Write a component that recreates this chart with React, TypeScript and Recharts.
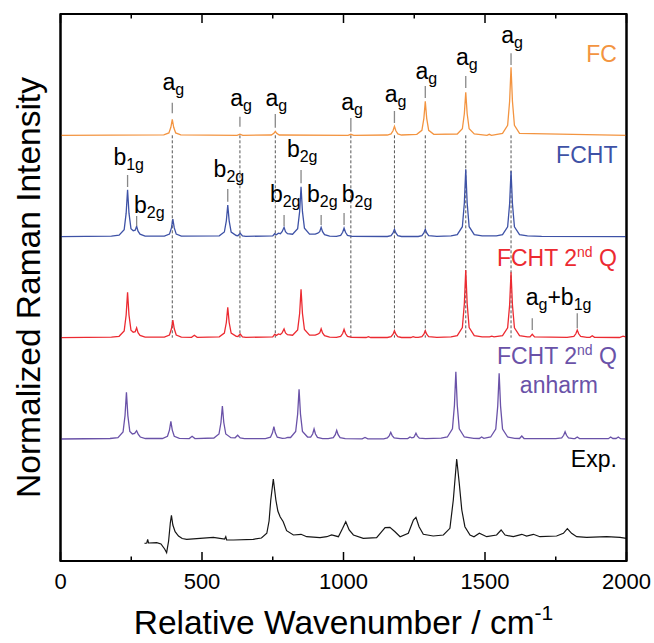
import React from "react";
import { LineChart, Line, XAxis, YAxis, ReferenceLine, ReferenceDot, ReferenceArea } from "recharts";

const FONT = "'Liberation Sans', Arial, Helvetica, sans-serif";

// chart units on y: 0 = bottom of frame, 547 = top of frame
const Y_TOP = 547;
const OFFSET_FC = 425.7;
const OFFSET_FCHT = 324.3;
const OFFSET_2Q = 223.3;
const OFFSET_ANH = 122;

const xTicks = [0, 250, 500, 750, 1000, 1250, 1500, 1750, 2000];

// [wavenumber, intensity above baseline]
const fcPoints: [number, number][] = [
  [0, 0], [365, 0.5], [383, 2.4], [390, 8], [395, 16], [400, 8], [407, 2.4], [425, 0.5],
  [624, 0], [634, 1.2], [644, 0],
  [745, 0.3], [754, 2], [759, 4], [764, 2], [773, 0.3],
  [1016, 0], [1026, 1], [1036, 0],
  [1155, 0.3], [1168, 1.4], [1175, 4.5], [1180, 9], [1185, 4.5], [1192, 1.4], [1205, 0.3],
  [1259, 1], [1277, 5], [1284, 17], [1289, 34], [1294, 17], [1301, 5], [1319, 1],
  [1402, 1.3], [1420, 6.5], [1427, 21.5], [1432, 43], [1437, 21.5], [1444, 6.5], [1462, 1.3],
  [1507, 0], [1515, 1], [1523, 0],
  [1562, 2], [1580, 10], [1587, 34], [1592, 68], [1597, 34], [1604, 10], [1622, 2],
  [2000, 0],
];

const fchtPoints: [number, number][] = [
  [0, 0], [180, 0.5], [207, 1.5], [225, 7], [232, 23.5], [237, 47], [242, 23.5], [249, 8],
  [257, 6], [264, 6.5], [269, 10.5], [274, 5.5], [281, 2.5], [299, 0.6],
  [367, 0.5], [385, 2.6], [392, 8.8], [397, 17.5], [402, 8.8], [409, 2.6], [427, 0.5],
  [561, 0.9], [579, 4.7], [586, 15.9], [591, 31.7], [596, 15.9], [603, 4.7], [621, 1.2],
  [627, 1], [635, 3.4], [643, 0.8], [655, 0.3],
  [750, 0.8], [757, 3], [763, 2], [770, 3.5], [777, 3], [783, 5], [790, 9.4], [795, 5],
  [802, 3], [820, 2.5], [838, 8], [845, 25], [850, 50], [855, 25], [862, 8.5], [880, 2.5],
  [900, 2.5], [909, 3.5], [916, 5], [921, 9.4], [926, 5], [933, 2], [951, 0.5],
  [975, 0.3], [990, 1.3], [997, 4.4], [1002, 8.7], [1007, 4.4], [1014, 1.3], [1030, 0.3],
  [1155, 0.2], [1168, 1.1], [1175, 3.7], [1180, 7.4], [1185, 3.7], [1192, 1.1], [1205, 0.2],
  [1264, 0.2], [1277, 1.1], [1284, 3.7], [1289, 7.4], [1294, 3.7], [1301, 1.1], [1330, 0.3],
  [1380, 0.8], [1402, 2], [1420, 10], [1427, 33.7], [1432, 67.4], [1437, 33.7], [1444, 10],
  [1462, 2], [1490, 0.8],
  [1540, 0.8], [1562, 2], [1580, 9.9], [1587, 32.9], [1592, 65.7], [1597, 32.9], [1604, 9.9],
  [1622, 2], [1650, 0.8], [1700, 0.3], [2000, 0],
];

const secondQPoints: [number, number][] = [
  [0, 0], [180, 0.5], [207, 1.4], [225, 6.8], [232, 22.7], [237, 45.4], [242, 22.7], [249, 7.5],
  [257, 5.5], [264, 6], [269, 9.8], [274, 5], [281, 2.3], [299, 0.6],
  [367, 0.5], [385, 2.7], [392, 8.9], [397, 17.7], [402, 8.9], [409, 2.7], [427, 0.6],
  [463, 0.4], [473, 2.4], [483, 0.4],
  [561, 0.9], [579, 4.6], [586, 15.2], [591, 30.4], [596, 15.2], [603, 4.6], [621, 1.3],
  [627, 1.2], [635, 3.7], [643, 0.9], [655, 0.3],
  [750, 0.8], [757, 3.4], [763, 2.3], [770, 3.8], [777, 3.2], [783, 4.8], [790, 8.7], [795, 4.8],
  [802, 3], [820, 2.5], [838, 7.8], [845, 24.2], [850, 48.4], [855, 24.2], [862, 8.2], [880, 2.5],
  [900, 2.5], [909, 3.5], [916, 4.8], [921, 9], [926, 4.8], [933, 2], [951, 0.5],
  [975, 0.3], [990, 1.3], [997, 4.2], [1002, 8.4], [1007, 4.2], [1014, 1.3], [1030, 0.3],
  [1080, 0.2], [1088, 1], [1096, 0.2],
  [1155, 0.2], [1168, 1.1], [1175, 3.5], [1180, 7], [1185, 3.5], [1192, 1.1], [1205, 0.2],
  [1238, 0.2], [1246, 1], [1254, 0.3],
  [1264, 0.3], [1277, 1.1], [1284, 3.5], [1289, 7], [1294, 3.5], [1301, 1.1], [1330, 0.3],
  [1380, 0.8], [1402, 2], [1420, 10.2], [1427, 33.9], [1432, 67.7], [1437, 33.9], [1444, 10.2],
  [1462, 2], [1490, 0.8],
  [1516, 0.8], [1524, 1.5], [1532, 0.8],
  [1562, 2], [1580, 9.8], [1587, 32.7], [1592, 65.4], [1597, 32.7], [1604, 9.8], [1622, 2], [1650, 0.8],
  [1659, 0.8], [1667, 3.4], [1675, 0.8],
  [1790, 0.3], [1814, 1.2], [1821, 3.9], [1826, 7.7], [1831, 3.9], [1838, 1.2], [1860, 0.4],
  [1871, 0.4], [1879, 2], [1887, 0.4],
  [1975, 0.2], [1988, 1.5], [2000, 0.5],
];

const anharmPoints: [number, number][] = [
  [0, 0], [175, 0.5], [203, 1.4], [221, 7], [228, 23.4], [233, 46.7], [238, 23.4], [245, 7.5],
  [254, 5], [262, 5.5], [269, 8.3], [275, 4.5], [282, 2], [300, 0.5],
  [360, 0.5], [378, 2.7], [385, 8.9], [390, 17.7], [395, 8.9], [402, 2.7], [420, 0.6],
  [455, 0.4], [465, 2.7], [475, 0.4],
  [542, 1], [560, 5], [567, 16.5], [572, 33], [577, 16.5], [584, 5], [602, 1.3],
  [617, 1.2], [626, 3.7], [635, 1], [650, 0.3],
  [724, 0.4], [742, 1.8], [749, 6.2], [754, 12.3], [759, 6.2], [766, 1.8], [784, 0.6],
  [795, 0.8], [803, 1.5], [813, 1.5], [831, 7.5], [838, 24.9], [843, 49.7], [848, 24.9], [855, 7.5],
  [873, 2], [884, 1.8], [891, 5], [896, 10], [901, 5], [908, 1.6], [926, 0.4],
  [946, 0.3], [964, 1.3], [971, 4.4], [976, 8.7], [981, 4.4], [988, 1.3], [1006, 0.3],
  [1066, 0.2], [1076, 1.5], [1086, 0.2],
  [1142, 0.2], [1155, 1], [1162, 3.4], [1167, 6.7], [1172, 3.4], [1179, 1], [1200, 0.3],
  [1227, 0.4], [1235, 2], [1241, 1.2], [1248, 1.5], [1251, 2.9], [1256, 5.7], [1261, 2.9],
  [1268, 0.9], [1290, 0.3],
  [1345, 0.8], [1367, 2], [1385, 10.1], [1392, 33.7], [1397, 67.3], [1402, 33.7], [1409, 10.1],
  [1427, 2], [1460, 0.6],
  [1480, 0.5], [1488, 2], [1496, 0.6],
  [1520, 2], [1538, 9.9], [1545, 32.9], [1550, 65.7], [1555, 32.9], [1562, 9.9], [1580, 2], [1605, 0.6],
  [1622, 0.5], [1630, 3], [1638, 0.5],
  [1750, 0.3], [1771, 1.1], [1778, 3.7], [1783, 7.3], [1788, 3.7], [1795, 1.1], [1812, 0.4],
  [1818, 0.4], [1826, 2], [1834, 0.4],
  [1936, 0.3], [1944, 2], [1952, 0.5], [1963, 0.5], [1971, 2], [1979, 0.3], [2000, 0],
];

// experimental spectrum, absolute chart units
const expPoints: [number, number][] = [
  [297, 17.7], [305, 18], [308, 21.7], [311, 18], [340, 18.3], [355, 17], [368, 12], [375, 8.3],
  [382, 20], [388, 38], [392, 45.7], [397, 36], [405, 29.3], [417, 25], [430, 22.5], [446, 21.7],
  [493, 22.7], [540, 23.7], [580, 22], [584, 24.3], [587, 21], [611, 21], [681, 21.7], [710, 23],
  [729, 27.7], [737, 40], [743, 61], [752, 82], [761, 61], [768, 50], [776, 44.3], [787, 39.3],
  [799, 30.3], [823, 26], [850, 26.7], [870, 24.3], [917, 23.3], [941, 24.3], [958, 26], [982, 24.3],
  [997, 32.7], [1008, 39.3], [1020, 31], [1035, 26], [1070, 22.7], [1117, 23.3], [1135, 29.3],
  [1147, 33.3], [1164, 33.7], [1182, 29.3], [1200, 24.3], [1229, 27.7], [1247, 41], [1256, 43.7],
  [1267, 34.3], [1282, 26.7], [1317, 25], [1353, 26], [1376, 32.7], [1388, 61], [1400, 102],
  [1409, 77.7], [1418, 51], [1429, 34.3], [1447, 26], [1461, 24.3], [1480, 27.7], [1506, 24.3],
  [1541, 26], [1557, 31], [1571, 26], [1600, 24.3], [1630, 26.7], [1647, 25], [1671, 26.7],
  [1694, 24.3], [1753, 25], [1777, 27.7], [1791, 32.3], [1806, 27.7], [1824, 24.3], [1859, 23.7],
  [1930, 24.3], [1977, 23.7], [2000, 22.7],
];

// FC a_g modes with dashed guide lines
const agModes = [395, 634, 759, 1026, 1180, 1289, 1432, 1592];
// label baseline and short marker (top, bottom) in chart units
const agLabelY = [471, 455, 455, 451, 459.3, 482, 496, 517.7];
const agMarkTop = [458.3, 444.3, 447, 443, 450, 475, 485, 507.7];
const agMarkBottom = [447.7, 434.3, 433.3, 429.3, 438, 463, 473, 496];

const fchtModes = [237, 269, 591, 790, 850, 921, 1002];
const fchtSub = ["1g", "2g", "2g", "2g", "2g", "2g", "2g"];
const fchtLabelX = [237, 310, 591, 790, 850, 921, 1044];
const fchtLabelY = [396, 348, 384.3, 359.3, 404.3, 359.3, 359.3];
const fchtMarkTop = [386, 345, 372, 346, 391, 346, 348];
const fchtMarkBottom = [374, 335, 359.3, 335, 377.7, 336, 336];

const comboModes = [1667, 1826];
const comboMarkTop = [242.7, 247.7];
const comboMarkBottom = [231, 232.7];

const toSeries = (pts: [number, number][], off: number) => pts.map(([x, y]) => ({ x, y: y + off }));

const COLORS = {
  fc: "#F39440",
  fcht: "#3E52A6",
  q2: "#EC2A31",
  anh: "#6A52A8",
  exp: "#151515",
};

const BottomTick = (p: any) => {
  const major = p.payload.value % 500 === 0;
  return (
    <g>
      <line x1={p.x} x2={p.x} y1={p.y} y2={p.y - (major ? 9 : 4.5)} stroke="#000" strokeWidth={1.5} />
      {major && (
        <text x={p.x} y={p.y + 28} textAnchor="middle" fontSize={22} fontFamily={FONT} fill="#000">
          {p.payload.value}
        </text>
      )}
    </g>
  );
};

const SubLabel = (main: string, sub: string) => (p: any) => (
  <text x={p.cx} y={p.cy} textAnchor="middle" fontSize={23} fontFamily={FONT} fill="#000">
    {main}
    <tspan fontSize={16} dy={5}>{sub}</tspan>
  </text>
);

const SeriesLabel = (color: string, sup: boolean, text: string) => (p: any) => (
  <text x={p.cx} y={p.cy} textAnchor="end" fontSize={23} fontFamily={FONT} fill={color}>
    {sup ? (
      <>
        {"FCHT 2"}
        <tspan fontSize={14} dy={-9}>nd</tspan>
        <tspan fontSize={23} dy={9}>{" Q"}</tspan>
      </>
    ) : (
      text
    )}
  </text>
);

export default function App() {
  return (
    <div style={{ position: "absolute", left: 0, top: 0, width: 654, height: 643, background: "#fff", fontFamily: FONT }}>
      <LineChart width={654} height={643} margin={{ top: 14, right: 26.5, left: 59.5, bottom: 0 }}>
        <XAxis
          type="number"
          dataKey="x"
          domain={[0, 2000]}
          allowDataOverflow
          ticks={xTicks}
          interval={0}
          height={82}
          tickSize={0}
          tickMargin={0}
          tick={(p: any) => <BottomTick {...p} />}
          axisLine={{ stroke: "#000", strokeWidth: 2 }}
        />
        <YAxis type="number" domain={[0, Y_TOP]} allowDataOverflow width={1} tick={false} tickLine={false} axisLine={{ stroke: "#000", strokeWidth: 2 }} />
        <YAxis yAxisId="r" orientation="right" type="number" domain={[0, Y_TOP]} allowDataOverflow width={1} tick={false} tickLine={false} axisLine={{ stroke: "#000", strokeWidth: 2 }} />

        <ReferenceArea x1={0} x2={2000} y1={0} y2={Y_TOP} fill="none" stroke="#000" strokeWidth={2} ifOverflow="visible" />

        {/* inward ticks on the top edge of the frame */}
        {xTicks.map((t) => (
          <ReferenceLine key={"tt" + t} segment={[{ x: t, y: Y_TOP }, { x: t, y: Y_TOP - (t % 500 === 0 ? 9 : 4.5) }]} stroke="#000" strokeWidth={1.5} ifOverflow="visible" />
        ))}

        {agModes.map((m) => (
          <ReferenceLine key={"d" + m} segment={[{ x: m, y: OFFSET_FC }, { x: m, y: OFFSET_2Q }]} stroke="#555" strokeDasharray="3 2" strokeWidth={1} ifOverflow="visible" />
        ))}

        <Line data={toSeries(fcPoints, OFFSET_FC)} dataKey="y" type="linear" dot={false} stroke={COLORS.fc} strokeWidth={1.3} isAnimationActive={false} />
        <Line data={toSeries(fchtPoints, OFFSET_FCHT)} dataKey="y" type="linear" dot={false} stroke={COLORS.fcht} strokeWidth={1.3} isAnimationActive={false} />
        <Line data={toSeries(secondQPoints, OFFSET_2Q)} dataKey="y" type="linear" dot={false} stroke={COLORS.q2} strokeWidth={1.3} isAnimationActive={false} />
        <Line data={toSeries(anharmPoints, OFFSET_ANH)} dataKey="y" type="linear" dot={false} stroke={COLORS.anh} strokeWidth={1.3} isAnimationActive={false} />
        <Line data={toSeries(expPoints, 0)} dataKey="y" type="linear" dot={false} stroke={COLORS.exp} strokeWidth={1.2} isAnimationActive={false} />

        {agModes.map((m, i) => (
          <ReferenceLine key={"am" + m} segment={[{ x: m, y: agMarkTop[i] }, { x: m, y: agMarkBottom[i] }]} stroke="#888" strokeWidth={1.3} ifOverflow="visible" />
        ))}
        {agModes.map((m, i) => (
          <ReferenceDot key={"al" + m} x={m + 4} y={agLabelY[i]} r={0} ifOverflow="visible" shape={SubLabel("a", "g")} />
        ))}
        {fchtModes.map((m, i) => (
          <ReferenceLine key={"bm" + m} segment={[{ x: m, y: fchtMarkTop[i] }, { x: m, y: fchtMarkBottom[i] }]} stroke="#888" strokeWidth={1.3} ifOverflow="visible" />
        ))}
        {fchtModes.map((m, i) => (
          <ReferenceDot key={"bl" + m} x={fchtLabelX[i] + 4} y={fchtLabelY[i]} r={0} ifOverflow="visible" shape={SubLabel("b", fchtSub[i])} />
        ))}
        {comboModes.map((m, i) => (
          <ReferenceLine key={"cm" + m} segment={[{ x: m, y: comboMarkTop[i] }, { x: m, y: comboMarkBottom[i] }]} stroke="#888" strokeWidth={1.3} ifOverflow="visible" />
        ))}
        <ReferenceDot
          x={1760}
          y={256}
          r={0}
          ifOverflow="visible"
          shape={(p: any) => (
            <text x={p.cx} y={p.cy} textAnchor="middle" fontSize={23} fontFamily={FONT} fill="#000">
              a<tspan fontSize={16} dy={5}>g</tspan>
              <tspan fontSize={23} dy={-5}>+b</tspan>
              <tspan fontSize={16} dy={5}>1g</tspan>
            </text>
          )}
        />

        <ReferenceDot x={1966} y={498.7} r={0} ifOverflow="visible" shape={SeriesLabel(COLORS.fc, false, "FC")} />
        <ReferenceDot x={1968} y={397.7} r={0} ifOverflow="visible" shape={SeriesLabel(COLORS.fcht, false, "FCHT")} />
        <ReferenceDot x={1966} y={295.3} r={0} ifOverflow="visible" shape={SeriesLabel(COLORS.q2, true, "")} />
        <ReferenceDot x={1966} y={196.7} r={0} ifOverflow="visible" shape={SeriesLabel(COLORS.anh, true, "")} />
        <ReferenceDot
          x={1761}
          y={167.7}
          r={0}
          ifOverflow="visible"
          shape={(p: any) => (
            <text x={p.cx} y={p.cy} textAnchor="middle" fontSize={23} fontFamily={FONT} fill={COLORS.anh}>
              anharm
            </text>
          )}
        />
        <ReferenceDot x={1966} y={94.3} r={0} ifOverflow="visible" shape={SeriesLabel("#000", false, "Exp.")} />

        <ReferenceDot
          x={1000}
          y={-73}
          r={0}
          ifOverflow="visible"
          shape={(p: any) => (
            <text x={p.cx} y={p.cy} textAnchor="middle" fontSize={33.5} fontFamily={FONT} fill="#000">
              Relative Wavenumber / cm<tspan fontSize={21} dy={-14}>-1</tspan>
            </text>
          )}
        />
        <ReferenceDot
          x={-72}
          y={273.5}
          r={0}
          ifOverflow="visible"
          shape={(p: any) => (
            <text x={p.cx} y={p.cy} textAnchor="middle" fontSize={33.5} fontFamily={FONT} fill="#000" transform={`rotate(-90 ${p.cx} ${p.cy})`}>
              Normalized Raman Intensity
            </text>
          )}
        />
      </LineChart>
    </div>
  );
}
